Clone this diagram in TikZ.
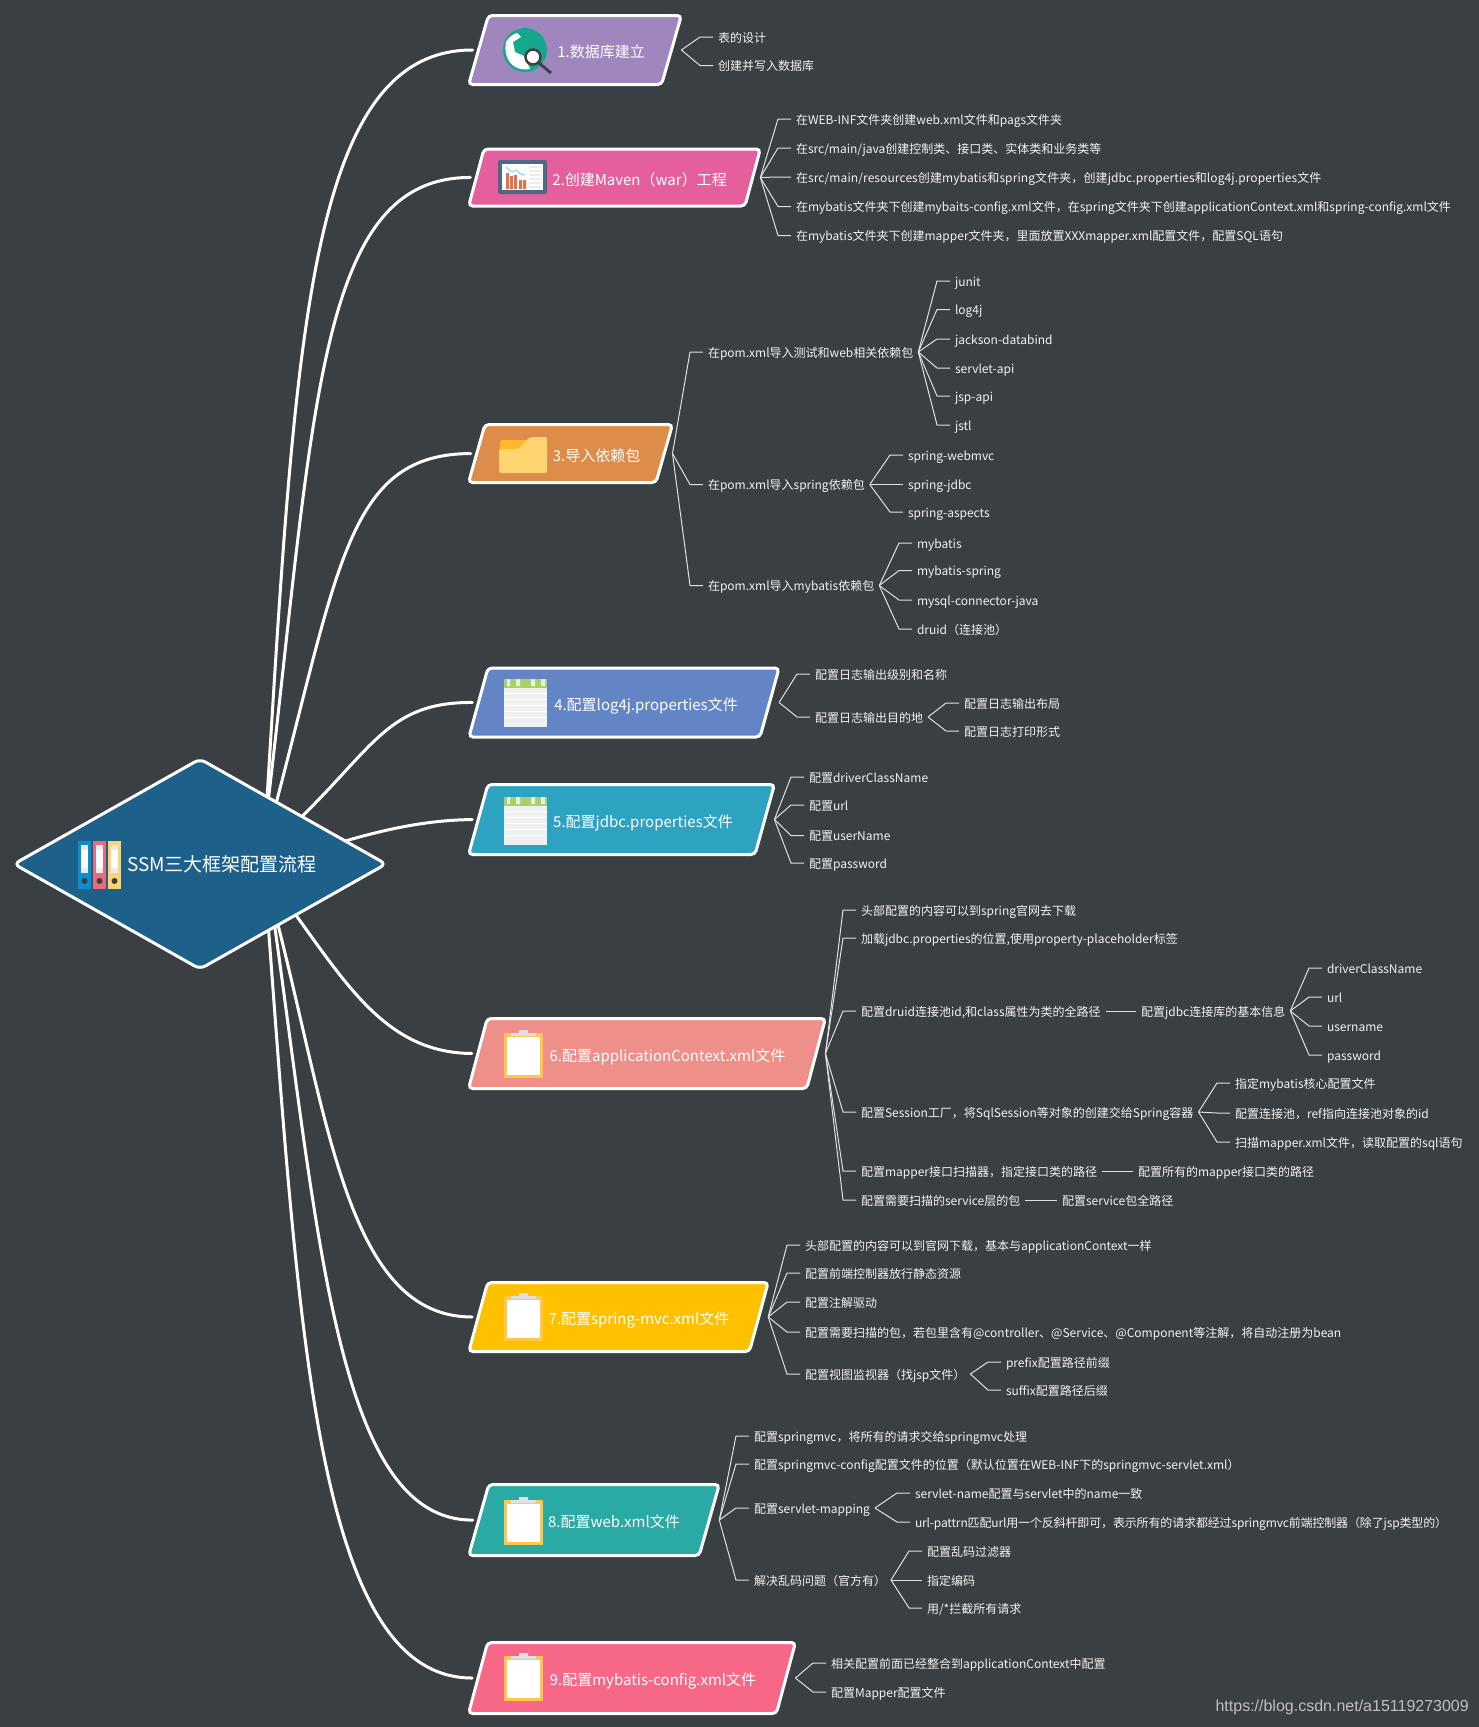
\documentclass[tikz,border=0pt]{standalone}
\usepackage{fontspec}
\setmainfont{Noto Sans CJK SC}
\newfontfamily\wmfont{Liberation Sans}
\usetikzlibrary{shapes.geometric}
\definecolor{bgdark}{HTML}{3A3F43}
\definecolor{rootblue}{HTML}{1D618A}
\definecolor{dbpurple}{HTML}{9F86BD}
\definecolor{mavenpink}{HTML}{E55F9C}
\definecolor{depsorange}{HTML}{DD8C4A}
\definecolor{logblue}{HTML}{6485C5}
\definecolor{jdbccyan}{HTML}{2EA3C1}
\definecolor{ctxsalmon}{HTML}{EF8F89}
\definecolor{mvcyellow}{HTML}{FFC000}
\definecolor{webteal}{HTML}{2AAAA5}
\definecolor{confrose}{HTML}{F76888}
\definecolor{globeteal}{HTML}{16A88F}
\definecolor{chartframe}{HTML}{4A6A88}
\definecolor{chartbar}{HTML}{E2724F}
\definecolor{foldertab}{HTML}{FFB72B}
\definecolor{folderbody}{HTML}{FFD572}
\definecolor{padgreen}{HTML}{A8D363}
\definecolor{clipgold}{HTML}{FFC84B}
\begin{document}
\begin{tikzpicture}[
    x=1pt, y=-1pt,
    root/.style={diamond, aspect=1.75, draw=white, line width=3pt, fill=rootblue, rounded corners=6pt, minimum width=372pt, minimum height=210pt, inner sep=0pt, outer sep=0pt, text=white, font=\fontsize{19}{22}\selectfont},
    topic/.style={trapezium, trapezium left angle=77, trapezium right angle=103, trapezium stretches=true, draw=white, line width=3pt, rounded corners=4pt, inner xsep=0pt, outer sep=0pt, text height=16pt, text depth=1pt, text=white, font=\fontsize{15}{18}\selectfont},
    leaf/.style={anchor=west, xshift=-5pt, inner xsep=5pt, inner ysep=1pt, outer sep=0pt, text height=10.4pt, text depth=0pt, text=white!95!black, font=\fontsize{12}{14}\selectfont},
    trunk/.style={draw=white, line width=3pt, line cap=round, shorten >=6pt},
    twig/.style={draw=white!88!black, line width=1pt},
    elbow/.style={to path={-- ([xshift=-13pt]\tikztotarget.west) -- (\tikztotarget.west)}},
    binder/.pic={
        \fill[pic actions] (0,0) rectangle (13,48);
        \fill[white!92!black] (3,4) rectangle (10,32);
        \fill[white] (3,9) rectangle (10,27);
        \fill[bgdark] (6.5,40) circle (3);
    },
    notepad/.pic={
        \fill[white!94!black] (0,0) rectangle (43,48);
        \fill[white] (0,14) rectangle (43,15) (0,20) rectangle (43,21) (0,26) rectangle (43,27) (0,32) rectangle (43,33) (0,38) rectangle (43,39);
        \fill[padgreen] (0,0) rectangle (43,9);
        \fill[white!92!black] (3,0) rectangle (6,7) (12,0) rectangle (16,7) (27,0) rectangle (31,7) (37,0) rectangle (41,7);
    },
    clipicon/.pic={
        \fill[clipgold] (0,3) rectangle (39,48);
        \fill[white] (3,7) rectangle (36,45);
        \fill[white!88!black] (7,3) -- (15,3) -- (15,0) -- (24,0) -- (24,3) -- (32,3) -- (32,6) -- (7,6) -- cycle;
    },
]
    \useasboundingbox (0,0) rectangle (1479,1727);
    \fill[bgdark] (0,0) rectangle (1479,1727);

    % centre and main branches
    \node[root] (ssm) at (200,864) {\hspace*{44pt}SSM三大框架配置流程};
    \node[topic, fill=dbpurple, minimum width=213pt, inner ysep=26pt] (db) at (575,50) {\hspace*{52pt}1.数据库建立};
    \node[topic, fill=mavenpink, minimum width=292pt, inner ysep=20pt] (maven) at (614.5,177.5) {\hspace*{50pt}2.创建Maven（war）工程};
    \node[topic, fill=depsorange, minimum width=204pt, inner ysep=20.5pt] (deps) at (570.5,453.5) {\hspace*{52pt}3.导入依赖包};
    \node[topic, fill=logblue, minimum width=311pt, inner ysep=26pt] (log) at (624,702.5) {\hspace*{44pt}4.配置log4j.properties文件};
    \node[topic, fill=jdbccyan, minimum width=306pt, inner ysep=26.5pt] (jdbc) at (621.5,819.5) {\hspace*{43pt}5.配置jdbc.properties文件};
    \node[topic, fill=ctxsalmon, minimum width=357pt, inner ysep=26.5pt] (ctx) at (647,1053.5) {\hspace*{41pt}6.配置applicationContext.xml文件};
    \node[topic, fill=mvcyellow, minimum width=300pt, inner ysep=26pt] (mvc) at (618.5,1317) {\hspace*{41pt}7.配置spring-mvc.xml文件};
    \node[topic, fill=webteal, minimum width=251pt, inner ysep=27pt] (web) at (594,1520) {\hspace*{40pt}8.配置web.xml文件};
    \node[topic, fill=confrose, minimum width=327pt, inner ysep=27pt] (conf) at (632,1678) {\hspace*{42pt}9.配置mybatis-config.xml文件};

    \draw[trunk] (ssm.45) .. controls (296,330) and (310,50) .. (db.left side);
    \draw[trunk] (ssm.44) .. controls (315,400) and (320,177) .. (maven.left side);
    \draw[trunk] (ssm.39) .. controls (340,560) and (350,454) .. (deps.left side);
    \draw[trunk] (ssm.25) .. controls (375,745) and (390,702) .. (log.left side);
    \draw[trunk] (ssm.9) .. controls (390,828) and (430,820) .. (jdbc.left side);
    \draw[trunk] (ssm.-28) .. controls (350,990) and (390,1053) .. (ctx.left side);
    \draw[trunk] (ssm.-38) .. controls (330,1130) and (350,1317) .. (mvc.left side);
    \draw[trunk] (ssm.-40) .. controls (320,1250) and (340,1521) .. (web.left side);
    \draw[trunk] (ssm.-44) .. controls (300,1350) and (320,1678) .. (conf.left side);

    % icons
    \pic[fill={rgb,255:red,10;green,143;blue,208}] at (78,841) {binder};
    \pic[fill={rgb,255:red,233;green,107;blue,120}] at (93,841) {binder};
    \pic[fill={rgb,255:red,255;green,212;blue,112}] at (108,841) {binder};

    \fill[globeteal] (525,50) circle (22);
    \fill[white] (506,42) .. controls (509,37) and (513,34) .. (517,33) -- (521,37) -- (513,42) -- (515,52) -- (524,56) -- (530,69) .. controls (512,72) and (503,58) .. cycle;
    \fill[white] (533,57) circle (7);
    \draw[black!75, line width=2.5pt] (533,57) circle (7.5);
    \draw[black!75, line width=3pt] (539,63) -- (551,73);

    \fill[rounded corners=2pt, chartframe] (498,160) rectangle (547,194);
    \fill[white] (502,164) rectangle (543,190);
    \fill[chartbar] (506,173) rectangle (509,189) (510,176) rectangle (513,189) (514,175) rectangle (517,189) (519,180) rectangle (522,189) (523,180) rectangle (526,189);
    \draw[cyan!50!white, line width=1pt] (506,167) -- (512,172) -- (516,170) -- (522,175) -- (525,174);
    \fill[white!85!gray] (529,166) rectangle (541,168) (529,170) rectangle (541,172) (529,174) rectangle (541,176) (529,178) rectangle (541,180) (529,182) rectangle (541,184) (529,186) rectangle (541,188);

    \fill[rounded corners=2pt, foldertab] (500,440) rectangle (530,455);
    \fill[rounded corners=2pt, folderbody] (499,473) -- (499,449) -- (518,449) -- (530,437) -- (547,437) -- (547,473) -- cycle;

    \pic at (504,679) {notepad};
    \pic at (504,797) {notepad};
    \pic at (504,1030) {clipicon};
    \pic at (504,1293) {clipicon};
    \pic at (504,1497) {clipicon};
    \pic at (504,1653) {clipicon};

    % 1
    \node[leaf] (db1) at (718,37) {表的设计};
    \node[leaf] (db2) at (718,65.5) {创建并写入数据库};
    \foreach \n in {db1,db2} \draw[twig] (db.top right corner |- db.center) to[elbow] (\n);

    % 2
    \node[leaf] (maven1) at (796,119) {在WEB-INF文件夹创建web.xml文件和pags文件夹};
    \node[leaf] (maven2) at (796,148) {在src/main/java创建控制类、接口类、实体类和业务类等};
    \node[leaf] (maven3) at (796,177) {\addfontfeature{LetterSpace=0.8}在src/main/resources创建mybatis和spring文件夹，创建jdbc.properties和log4j.properties文件};
    \node[leaf] (maven4) at (796,206.5) {在mybatis文件夹下创建mybaits-config.xml文件，在spring文件夹下创建applicationContext.xml和spring-config.xml文件};
    \node[leaf] (maven5) at (796,235.5) {在mybatis文件夹下创建mapper文件夹，里面放置XXXmapper.xml配置文件，配置SQL语句};
    \foreach \n in {maven1,maven2,maven3,maven4,maven5} \draw[twig] (maven.top right corner |- maven.center) to[elbow] (\n);

    % 3
    \node[leaf] (deps1) at (708,352) {在pom.xml导入测试和web相关依赖包};
    \node[leaf] (deps2) at (708,484.5) {在pom.xml导入spring依赖包};
    \node[leaf] (deps3) at (708,585.5) {在pom.xml导入mybatis依赖包};
    \foreach \n in {deps1,deps2,deps3} \draw[twig] (deps.top right corner |- deps.center) to[elbow] (\n);

    \node[leaf] (test1) at (955,281) {junit};
    \node[leaf] (test2) at (955,309.5) {log4j};
    \node[leaf] (test3) at (955,339) {jackson-databind};
    \node[leaf] (test4) at (955,368) {servlet-api};
    \node[leaf] (test5) at (955,396) {jsp-api};
    \node[leaf] (test6) at (955,425) {jstl};
    \foreach \n in {test1,test2,test3,test4,test5,test6} \draw[twig] (deps1.east) to[elbow] (\n);

    \node[leaf] (spr1) at (908,455) {spring-webmvc};
    \node[leaf] (spr2) at (908,484.5) {spring-jdbc};
    \node[leaf] (spr3) at (908,512) {spring-aspects};
    \foreach \n in {spr1,spr2,spr3} \draw[twig] (deps2.east) to[elbow] (\n);

    \node[leaf] (mb1) at (917,543) {mybatis};
    \node[leaf] (mb2) at (917,570.5) {mybatis-spring};
    \node[leaf] (mb3) at (917,600) {mysql-connector-java};
    \node[leaf] (mb4) at (917,629) {druid（连接池）};
    \foreach \n in {mb1,mb2,mb3,mb4} \draw[twig] (deps3.east) to[elbow] (\n);

    % 4
    \node[leaf] (log1) at (815,674) {配置日志输出级别和名称};
    \node[leaf] (log2) at (815,717) {配置日志输出目的地};
    \foreach \n in {log1,log2} \draw[twig] (log.top right corner |- log.center) to[elbow] (\n);
    \node[leaf] (out1) at (964,703) {配置日志输出布局};
    \node[leaf] (out2) at (964,731) {配置日志打印形式};
    \foreach \n in {out1,out2} \draw[twig] (log2.east) to[elbow] (\n);

    % 5
    \node[leaf] (jdbc1) at (809,777) {配置driverClassName};
    \node[leaf] (jdbc2) at (809,805) {配置url};
    \node[leaf] (jdbc3) at (809,835.5) {配置userName};
    \node[leaf] (jdbc4) at (809,863) {配置password};
    \foreach \n in {jdbc1,jdbc2,jdbc3,jdbc4} \draw[twig] (jdbc.top right corner |- jdbc.center) to[elbow] (\n);

    % 6
    \node[leaf] (ctx1) at (861,910) {头部配置的内容可以到spring官网去下载};
    \node[leaf] (ctx2) at (861,938) {加载jdbc.properties的位置,使用property-placeholder标签};
    \node[leaf] (ctx3) at (861,1011) {配置druid连接池id,和class属性为类的全路径};
    \node[leaf] (ctx4) at (861,1112) {配置Session工厂，将SqlSession等对象的创建交给Spring容器};
    \node[leaf] (ctx5) at (861,1171) {配置mapper接口扫描器，指定接口类的路径};
    \node[leaf] (ctx6) at (861,1200) {配置需要扫描的service层的包};
    \foreach \n in {ctx1,ctx2,ctx3,ctx4,ctx5,ctx6} \draw[twig] (ctx.top right corner |- ctx.center) to[elbow] (\n);

    \node[leaf] (pool) at (1141,1011) {配置jdbc连接库的基本信息};
    \draw[twig] (ctx3.east) -- (pool.west);
    \node[leaf] (pool1) at (1327,968) {driverClassName};
    \node[leaf] (pool2) at (1327,997) {url};
    \node[leaf] (pool3) at (1327,1026) {username};
    \node[leaf] (pool4) at (1327,1055) {password};
    \foreach \n in {pool1,pool2,pool3,pool4} \draw[twig] (pool.east) to[elbow] (\n);

    \node[leaf] (sess1) at (1235,1083) {指定mybatis核心配置文件};
    \node[leaf] (sess2) at (1235,1113) {配置连接池，ref指向连接池对象的id};
    \node[leaf] (sess3) at (1235,1142) {扫描mapper.xml文件，读取配置的sql语句};
    \foreach \n in {sess1,sess2,sess3} \draw[twig] (ctx4.east) to[elbow] (\n);

    \node[leaf] (scan) at (1138,1171) {配置所有的mapper接口类的路径};
    \draw[twig] (ctx5.east) -- (scan.west);
    \node[leaf] (svc) at (1062,1200) {配置service包全路径};
    \draw[twig] (ctx6.east) -- (svc.west);

    % 7
    \node[leaf] (mvc1) at (805,1245) {头部配置的内容可以到官网下载，基本与applicationContext一样};
    \node[leaf] (mvc2) at (805,1273) {配置前端控制器放行静态资源};
    \node[leaf] (mvc3) at (805,1302) {配置注解驱动};
    \node[leaf] (mvc4) at (805,1332) {配置需要扫描的包，若包里含有@controller、@Service、@Component等注解，将自动注册为bean};
    \node[leaf] (mvc5) at (805,1374) {配置视图监视器（找jsp文件）};
    \foreach \n in {mvc1,mvc2,mvc3,mvc4,mvc5} \draw[twig] (mvc.top right corner |- mvc.center) to[elbow] (\n);
    \node[leaf] (view1) at (1006,1362) {prefix配置路径前缀};
    \node[leaf] (view2) at (1006,1390) {suffix配置路径后缀};
    \foreach \n in {view1,view2} \draw[twig] (mvc5.east) to[elbow] (\n);

    % 8
    \node[leaf] (web1) at (754,1436) {配置springmvc，将所有的请求交给springmvc处理};
    \node[leaf] (web2) at (754,1464) {配置springmvc-config配置文件的位置（默认位置在WEB-INF下的springmvc-servlet.xml）};
    \node[leaf] (web3) at (754,1508) {配置servlet-mapping};
    \node[leaf] (web4) at (754,1580) {解决乱码问题（官方有）};
    \foreach \n in {web1,web2,web3,web4} \draw[twig] (web.top right corner |- web.center) to[elbow] (\n);
    \node[leaf] (map1) at (915,1493) {servlet-name配置与servlet中的name一致};
    \node[leaf] (map2) at (915,1522) {\addfontfeature{LetterSpace=-1.2}url-pattrn匹配url用一个反斜杆即可，表示所有的请求都经过springmvc前端控制器（除了jsp类型的）};
    \foreach \n in {map1,map2} \draw[twig] (web3.east) to[elbow] (\n);
    \node[leaf] (enc1) at (927,1551) {配置乱码过滤器};
    \node[leaf] (enc2) at (927,1580) {指定编码};
    \node[leaf] (enc3) at (927,1608) {用/*拦截所有请求};
    \foreach \n in {enc1,enc2,enc3} \draw[twig] (web4.east) to[elbow] (\n);

    % 9
    \node[leaf] (conf1) at (831,1663) {相关配置前面已经整合到applicationContext中配置};
    \node[leaf] (conf2) at (831,1692) {配置Mapper配置文件};
    \foreach \n in {conf1,conf2} \draw[twig] (conf.top right corner |- conf.center) to[elbow] (\n);

    \node[anchor=east, inner sep=0pt, text=white!50!gray, font=\wmfont\fontsize{16}{18}\selectfont] (mark) at (1469,1707) {https://blog.csdn.net/a15119273009};
\end{tikzpicture}
\end{document}
